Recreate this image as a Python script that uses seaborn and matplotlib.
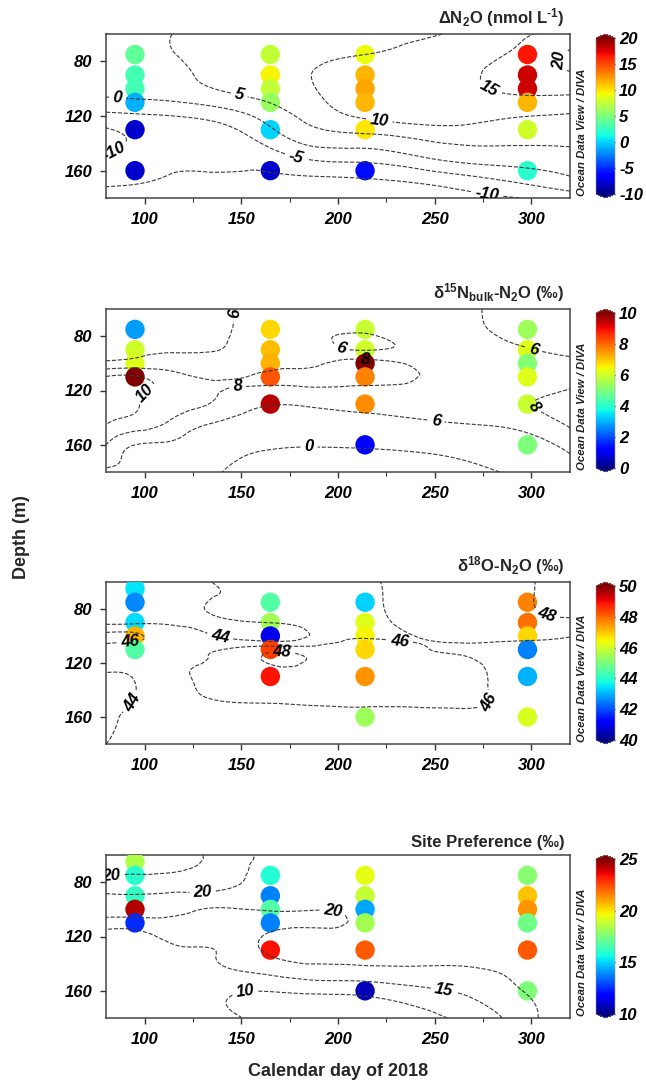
import numpy as np
import pandas as pd
import matplotlib
matplotlib.use("Agg")
import matplotlib.pyplot as plt
import seaborn as sns
from matplotlib.tri import Triangulation, CubicTriInterpolator
from matplotlib.colors import Normalize
from matplotlib.cm import ScalarMappable

# ------------------------------------------------------------------ data
# --- Delta N2O (nmol/L)
dn2o_day = [95] * 6 + [165] * 6 + [214] * 6 + [298] * 6
dn2o_depth = [75, 90, 100, 110, 130, 160] * 4
dn2o_value = [4, 3, 3, -1, -8, -8,
              7.5, 9.5, 7.5, 6, 0, -8,
              9, 11.5, 12, 11.5, 10, -6,
              16.5, 18, 18, 11.5, 8, 2]
dn2o_levels = [-10, -5, 0, 5, 10, 15, 20]
dn2o_cbar_ticks = [-10, -5, 0, 5, 10, 15, 20]
# gridded (DIVA) field: one row per grid day
dn2o_field_day = [80, 95, 115, 135, 160, 185, 214, 250, 285, 320]
dn2o_field_depth = [60, 75, 90, 105, 120, 135, 150, 165, 180]
dn2o_field = [
    [3, 3, 2, 0.3, -6.5, -11, -9.8, -9.5, -10.8],
    [4, 4, 2.8, 0.8, -5.8, -9.5, -9.3, -9.6, -11],
    [5.1, 4.9, 4.2, 1.8, -5, -8, -9.2, -10.2, -11],
    [7.5, 7, 6, 3.5, -3.5, -7.5, -8.8, -10.4, -11],
    [8, 8, 8.5, 6, 1, -3.5, -8, -10.5, -11],
    [8.2, 9, 9.9, 9, 6.5, 2.5, -4, -10.3, -11.5],
    [9, 10, 12, 13, 10.8, 4, -3, -9.8, -12],
    [9.8, 11.5, 12.5, 13, 12.3, 6.5, 0.8, -7.5, -12],
    [13, 14.8, 16.5, 14.5, 10.6, 6.8, 2.5, -4, -10.5],
    [17, 20.6, 19.5, 14.8, 9.5, 6.8, 3, -0.3, -8],
]
dn2o_label_at = [(86, 107), (149, 104), (221, 128), (278, 101), (316, 80),
                 (178, 151), (277, 176), (84, 145)]

# --- d15N bulk (permil)
d15n_day = [95] * 4 + [165] * 5 + [214] * 6 + [298] * 6
d15n_depth = [75, 90, 100, 110,
              75, 90, 100, 110, 130,
              75, 90, 100, 110, 130, 160,
              75, 90, 100, 110, 130, 160]
d15n_value = [2.8, 6, 6.2, 10,
              6.8, 7.1, 7.2, 8.2, 9.5,
              5.9, 6, 10, 7.7, 7.6, 1.1,
              5.4, 6.2, 5.1, 6.2, 5.9, 5.0]
d15n_levels = [0, 6, 8, 10]
d15n_cbar_ticks = [0, 2, 4, 6, 8, 10]
d15n_field_day = [80, 95, 115, 135, 160, 185, 214, 250, 285, 320]
d15n_field_depth = [60, 75, 90, 100, 110, 120, 130, 145, 160, 180]
d15n_field = [
    [3, 4, 5.2, 6.5, 10.1, 11, 10.8, 10, 8, 5.5],
    [3.5, 3.2, 5.5, 6.8, 10.2, 10.5, 10.2, 9, 6, 5.5],
    [4, 4.5, 5.8, 7, 8.6, 9, 8.6, 7.5, 5.5, 5],
    [5, 5.3, 5.9, 7, 7.9, 8.1, 7.9, 5.8, 3, 1],
    [6.8, 7, 7.3, 7.6, 8.1, 7.7, 6.3, 4, 0.8, -1.5],
    [6.5, 6.8, 7.2, 7.6, 8.6, 7.6, 6.3, 3.5, 0.3, -2.5],
    [6.8, 6.5, 5.9, 8.8, 9, 7.5, 6.8, 4, 0.5, -2.5],
    [7, 7, 6.8, 7.2, 7.6, 7.5, 7, 5.5, 1.5, -1.5],
    [5.5, 5.7, 6.4, 6.8, 7.2, 7.5, 7.6, 6.3, 3.5, 0.1],
    [5, 5.2, 5.7, 6.4, 7.5, 8.05, 8.6, 8.2, 6.8, 4.5],
]
d15n_label_at = [(147, 63), (202, 87), (214, 99), (148, 116), (102, 126),
                 (251, 139), (185, 163), (302, 86), (302, 131)]

# --- d18O (permil)
d18o_day = [95] * 5 + [165] * 5 + [214] * 6 + [298] * 6
d18o_depth = [65, 75, 90, 100, 110,
              75, 90, 100, 110, 130,
              75, 90, 100, 110, 130, 160,
              75, 90, 100, 110, 130, 160]
d18o_value = [43.5, 42.6, 43.4, 47.2, 44.5,
              44.5, 45.5, 41, 48.4, 48.9,
              43.3, 46.2, 46.5, 46.8, 47.5, 45.4,
              47.7, 47.9, 46.8, 42.5, 43, 46.1]
d18o_levels = [44, 46, 48]
d18o_cbar_ticks = [40, 42, 44, 46, 48, 50]
d18o_field_day = [80, 95, 120, 145, 170, 195, 220, 245, 270, 295, 320]
d18o_field_depth = [60, 75, 90, 100, 110, 120, 130, 145, 160, 180]
d18o_field = [
    [43, 43, 43.6, 46.5, 45, 44.3, 43.8, 43.5, 43.8, 44],
    [43.5, 42.9, 43.7, 46.3, 44.8, 44.3, 44.1, 44, 44.2, 44.3],
    [43.5, 43.6, 43.8, 44.8, 45.5, 45.7, 45.8, 45.5, 44.8, 44.5],
    [44.5, 44.3, 43.7, 43.5, 46.2, 46.6, 46.8, 46.3, 45.3, 44.8],
    [45, 44.8, 44.2, 42.5, 47.3, 48.3, 47.7, 46.5, 45.4, 45],
    [45, 44.8, 44.8, 45.2, 46.6, 47.2, 47.4, 46.6, 45.6, 45.2],
    [45.9, 45.8, 45.6, 45.8, 46.7, 47.2, 47.4, 46.5, 45.7, 45.2],
    [46.5, 46.8, 46.6, 46.1, 46.05, 46.5, 46.9, 46.6, 45.6, 45.2],
    [46.5, 46.8, 46.8, 46.4, 45.8, 46.2, 46.6, 46.4, 45.7, 45.3],
    [47.6, 47.7, 47.5, 46.6, 45, 44.5, 44.5, 45, 45.9, 45.5],
    [49, 48.7, 47.6, 46.1, 45.3, 45, 45, 45.3, 45.6, 45.5],
]
d18o_label_at = [(139, 101), (92, 101), (232, 103), (171, 116), (308, 83),
                 (295, 158), (88, 144)]

# --- Site preference (permil)
sp_day = [95] * 5 + [165] * 5 + [214] * 6 + [298] * 6
sp_depth = [65, 75, 90, 100, 110,
            75, 90, 100, 110, 130,
            75, 90, 100, 110, 130, 160,
            75, 90, 100, 110, 130, 160]
sp_value = [18.4, 16, 16.2, 24.3, 12.5,
            15.9, 13.75, 16.75, 13.75, 23.4,
            19.4, 18.8, 14.3, 18.25, 22.2, 10.75,
            17.7, 20.5, 21.25, 17.3, 22.2, 17.5]
sp_levels = [10, 15, 20]
sp_cbar_ticks = [10, 15, 20, 25]
sp_field_day = [80, 95, 120, 145, 165, 190, 214, 245, 275, 300, 320]
sp_field_depth = [60, 70, 80, 90, 100, 110, 120, 130, 145, 160, 180]
sp_field = [
    [22, 21.5, 19, 20.6, 22.5, 17.5, 13.5, 12.5, 12, 12, 12],
    [21.8, 21.2, 18.8, 20.4, 22.5, 17.5, 13.5, 12.5, 12, 11.8, 11.8],
    [21.3, 20.3, 19, 20.5, 20.6, 18.8, 16.5, 14.5, 13.3, 12.5, 12],
    [19, 19.2, 19.5, 20.7, 19.8, 18, 17, 16.2, 14.8, 10.6, 10.8],
    [21, 21.2, 21.3, 21.2, 20.3, 18.8, 20.8, 21, 16.5, 10.2, 8],
    [21, 21, 21.2, 21, 20.1, 19.3, 21.5, 21.5, 18.5, 11, 7.5],
    [20.8, 20.9, 21, 20.8, 20.5, 20.6, 21, 21.3, 18.8, 11.5, 7],
    [20.8, 21, 21.2, 21.2, 21, 21, 21.2, 21, 19.3, 14, 9],
    [20.8, 21, 21.3, 21.5, 21.5, 21.2, 21.2, 21.2, 19.8, 17, 12.5],
    [20.8, 21, 21.3, 21.7, 21.7, 21.2, 21.3, 21.3, 21, 20.5, 19.3],
    [20.8, 21, 21.3, 21.7, 21.7, 21.3, 21.3, 21.3, 21.3, 21.2, 20.8],
]
sp_label_at = [(83, 77), (130, 87), (197, 104), (255, 157), (152, 161)]

x_ticks = [100, 150, 200, 250, 300]
x_minor = [125, 175, 225, 275]
y_ticks = [80, 120, 160]

titles = [r"ΔN$_2$O (nmol L$^{\text{-1}}$)",
          r"δ$^{15}$N$_{\mathrm{bulk}}$-N$_2$O (‰)",
          r"δ$^{18}$O-N$_2$O (‰)",
          "Site Preference (‰)"]

# ------------------------------------------------------------------ style
sns.set_style("ticks")
plt.rcParams["font.family"] = ["Liberation Sans", "DejaVu Sans"]
plt.rcParams["font.weight"] = "bold"
plt.rcParams["font.style"] = "italic"
plt.rcParams["axes.unicode_minus"] = False
plt.rcParams["mathtext.fontset"] = "custom"
plt.rcParams["mathtext.rm"] = "Liberation Sans:style=normal:weight=bold"
plt.rcParams["mathtext.bf"] = "Liberation Sans:style=normal:weight=bold"
plt.rcParams["mathtext.it"] = "Liberation Sans:style=italic:weight=bold"
plt.rcParams["mathtext.default"] = "rm"


def smooth_field(fday, fdepth, field):
    X, Y = np.meshgrid(fday, fdepth)
    Z = np.asarray(field, float).T
    nx, ny = len(fday), len(fdepth)
    tris = []
    for j in range(ny - 1):
        for i in range(nx - 1):
            a = j * nx + i
            tris.append([a, a + 1, a + nx + 1])
            tris.append([a, a + nx + 1, a + nx])
    xs = (X.ravel() - 80) / 240.0
    ys = (Y.ravel() - 60) / 120.0
    tri = Triangulation(xs, ys, np.array(tris))
    interp = CubicTriInterpolator(tri, Z.ravel(), kind="min_E")
    xf = np.linspace(80, 320, 321)
    yf = np.linspace(60, 180, 241)
    XF, YF = np.meshgrid(xf, yf)
    ZF = interp((XF - 80) / 240.0, (YF - 60) / 120.0)
    return XF, YF, ZF


panels = [
    dict(day=dn2o_day, depth=dn2o_depth, value=dn2o_value, fday=dn2o_field_day,
         fdepth=dn2o_field_depth, field=dn2o_field, vmin=-10, vmax=20,
         ticks=dn2o_cbar_ticks, levels=dn2o_levels, labels=dn2o_label_at),
    dict(day=d15n_day, depth=d15n_depth, value=d15n_value, fday=d15n_field_day,
         fdepth=d15n_field_depth, field=d15n_field, vmin=0, vmax=10,
         ticks=d15n_cbar_ticks, levels=d15n_levels, labels=d15n_label_at),
    dict(day=d18o_day, depth=d18o_depth, value=d18o_value, fday=d18o_field_day,
         fdepth=d18o_field_depth, field=d18o_field, vmin=40, vmax=50,
         ticks=d18o_cbar_ticks, levels=d18o_levels, labels=d18o_label_at),
    dict(day=sp_day, depth=sp_depth, value=sp_value, fday=sp_field_day,
         fdepth=sp_field_depth, field=sp_field, vmin=10, vmax=25,
         ticks=sp_cbar_ticks, levels=sp_levels, labels=sp_label_at),
]

FW, FH = 646, 1090
AX_L, AX_R = 106, 570
CB_L, CB_W = 596, 19
tops = [34, 309, 582, 855]
bottoms = [198, 472, 744, 1018]

fig = plt.figure(figsize=(FW / 100, FH / 100), dpi=100)
cmap = matplotlib.colormaps["jet"]

for k, p in enumerate(panels):
    t, b = tops[k], bottoms[k]
    ax = fig.add_axes([AX_L / FW, 1 - b / FH, (AX_R - AX_L) / FW, (b - t) / FH])
    cax = fig.add_axes([CB_L / FW, 1 - b / FH, CB_W / FW, (b - t) / FH])

    df = pd.DataFrame({"day": p["day"], "depth": p["depth"], "value": p["value"]})
    sns.scatterplot(data=df, x="day", y="depth", hue="value", palette=cmap,
                    hue_norm=(p["vmin"], p["vmax"]), s=195, linewidth=0,
                    legend=False, ax=ax, zorder=3)

    ax.set_xlim(80, 320)
    ax.set_ylim(180, 60)

    XF, YF, ZF = smooth_field(p["fday"], p["fdepth"], p["field"])
    cs = ax.contour(XF, YF, ZF, levels=p["levels"], colors="#3a3a3a",
                    linestyles="--", linewidths=0.8, zorder=4)
    ax.clabel(cs, fmt="%d", fontsize=12, inline=True, inline_spacing=4,
              colors="black", manual=p["labels"])

    ax.set_xticks(x_ticks)
    ax.set_xticks(x_minor, minor=True)
    ax.set_yticks(y_ticks)
    ax.set_xlabel("")
    ax.set_ylabel("")
    ax.tick_params(axis="both", which="major", direction="out", length=4.5,
                   width=1, colors="#333333", labelcolor="black",
                   labelsize=12, pad=5.5)
    ax.tick_params(axis="x", which="minor", direction="out", length=3,
                   width=0.8, colors="#333333")
    for s in ax.spines.values():
        s.set_visible(True)
        s.set_color("#444444")
        s.set_linewidth(1.1)

    ax.annotate(titles[k], xy=(1, 1), xycoords="axes fraction",
                xytext=(-4, 3.5), textcoords="offset points", ha="right",
                va="bottom", fontsize=12, fontweight="bold", fontstyle="normal")

    norm = Normalize(p["vmin"], p["vmax"])
    cb = fig.colorbar(ScalarMappable(norm=norm, cmap=cmap), cax=cax,
                      extend="both", extendfrac=0.025, ticks=p["ticks"])
    cb.outline.set_linewidth(0.4)
    cb.outline.set_edgecolor("#999999")
    cax.tick_params(direction="in", length=4, width=1, colors="#222222",
                    labelcolor="black", labelsize=12, pad=3)
    cax.set_yticklabels([str(v) for v in p["ticks"]])

    fig.text(582 / FW, 1 - (b - 2) / FH, "Ocean Data View / DIVA", rotation=90,
             ha="center", va="bottom", fontsize=8.2, fontstyle="italic",
             fontweight="bold", color="#222222")

fig.text(22 / FW, 0.507, "Depth (m)", rotation=90, ha="center", va="center",
         fontsize=13, fontweight="bold", fontstyle="normal")
fig.text((AX_L + AX_R) / 2 / FW, 1 - 1072 / FH, "Calendar day of 2018",
         ha="center", va="center", fontsize=13, fontweight="bold",
         fontstyle="normal")

fig.savefig("out.png", dpi=100)
